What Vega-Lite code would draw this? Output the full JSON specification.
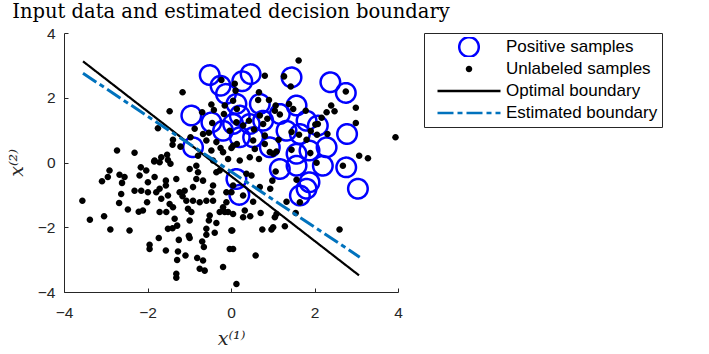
{
  "$schema": "https://vega.github.io/schema/vega-lite/v6.json",
  "width": 334,
  "height": 259,
  "autosize": {"type": "none"},
  "padding": {"left": 64, "top": 33, "right": 311, "bottom": 62},
  "background": "white",
  "title": {"text": "Input data and estimated decision boundary", "font": "DejaVu Serif", "fontSize": 19.5, "fontWeight": "normal", "color": "black", "anchor": "middle", "frame": "group", "baseline": "alphabetic", "offset": -11},
  "config": {
    "view": {"stroke": null},
    "axis": {"domainColor": "#262626", "tickColor": "#262626", "labelColor": "#262626", "labelFont": "Liberation Sans", "labelFontSize": 15.5, "tickSize": -4, "grid": false, "titleFont": "DejaVu Serif", "titleFontStyle": "italic", "titleFontWeight": "normal", "titleFontSize": 19, "titleColor": "#262626", "labelFlush": false, "domainWidth": 1, "tickWidth": 1}
  },
  "datasets": {
    "positive": [
      {"x": -0.51, "y": 2.70}, {"x": -0.25, "y": 2.37}, {"x": -0.12, "y": 2.12}, {"x": 0.27, "y": 2.51}, {"x": 0.47, "y": 2.73},
      {"x": 1.45, "y": 2.63}, {"x": 2.38, "y": 2.48}, {"x": 2.75, "y": 2.15},
      {"x": -0.95, "y": 1.45}, {"x": -0.47, "y": 1.24}, {"x": -0.19, "y": 0.98}, {"x": -0.91, "y": 0.47},
      {"x": 1.57, "y": 1.76}, {"x": 0.69, "y": 1.81}, {"x": 0.13, "y": 1.81}, {"x": 0.21, "y": 1.45}, {"x": 0.45, "y": 1.19},
      {"x": 0.77, "y": 1.29}, {"x": 1.17, "y": 1.50}, {"x": 1.81, "y": 1.29}, {"x": 2.08, "y": 1.14}, {"x": 1.65, "y": 0.88},
      {"x": 1.33, "y": 0.98}, {"x": 2.29, "y": 0.47}, {"x": 1.88, "y": 0.37}, {"x": 1.57, "y": 0.27}, {"x": 0.93, "y": 0.47},
      {"x": 0.53, "y": 0.78}, {"x": 0.21, "y": 0.78}, {"x": 0.05, "y": 1.19}, {"x": 2.78, "y": 0.88},
      {"x": 1.17, "y": -0.20}, {"x": 1.65, "y": -1.02}, {"x": 1.81, "y": -0.81}, {"x": 1.88, "y": -0.61}, {"x": 2.20, "y": -0.10},
      {"x": 2.76, "y": -0.15}, {"x": 3.04, "y": -0.81}, {"x": 0.13, "y": -0.51}, {"x": 1.57, "y": -0.10}, {"x": 0.20, "y": -1.00}
    ],
    "unlabeled": [
      {"x": -1.16, "y": 2.17}, {"x": -0.23, "y": 2.55}, {"x": -1.47, "y": 1.58}, {"x": -1.75, "y": 1.06}, {"x": -2.73, "y": 0.37},
      {"x": -2.31, "y": 0.30}, {"x": -1.83, "y": 0.06}, {"x": -1.67, "y": 0.16}, {"x": -1.53, "y": 0.24}, {"x": -1.51, "y": 0.08},
      {"x": -1.39, "y": 0.70}, {"x": -1.40, "y": 0.55}, {"x": -1.21, "y": 0.49}, {"x": -0.97, "y": 0.78}, {"x": -0.87, "y": 1.04},
      {"x": -0.69, "y": 1.55}, {"x": -0.47, "y": 1.79}, {"x": -0.41, "y": 1.62}, {"x": -0.15, "y": 1.76}, {"x": -0.17, "y": 1.50},
      {"x": -0.45, "y": 1.22}, {"x": -0.67, "y": 0.88}, {"x": -0.53, "y": 0.92}, {"x": -0.35, "y": 0.63}, {"x": -0.25, "y": 0.45},
      {"x": -0.19, "y": 0.32}, {"x": -0.03, "y": 0.98}, {"x": 0.01, "y": 0.45}, {"x": 0.05, "y": 1.91}, {"x": 0.09, "y": 2.43},
      {"x": -0.07, "y": 0.11}, {"x": -0.79, "y": 0.21}, {"x": -0.47, "y": 0.37}, {"x": -0.59, "y": 0.68}, {"x": -0.43, "y": 0.06},
      {"x": 1.62, "y": 3.15}, {"x": 0.81, "y": 2.68}, {"x": 1.27, "y": 2.66}, {"x": 1.43, "y": 2.35}, {"x": 2.75, "y": 2.19},
      {"x": 2.99, "y": 1.69}, {"x": 2.99, "y": 1.22}, {"x": 3.94, "y": 0.78}, {"x": 3.07, "y": 0.21}, {"x": 3.28, "y": 0.13},
      {"x": 2.40, "y": 1.76}, {"x": 2.48, "y": 1.58}, {"x": 2.29, "y": 1.55}, {"x": 2.17, "y": 1.38}, {"x": 2.08, "y": 1.19},
      {"x": 2.02, "y": 1.17}, {"x": 2.31, "y": 0.88}, {"x": 2.06, "y": 0.86}, {"x": 1.91, "y": 0.97}, {"x": 1.79, "y": 1.60},
      {"x": 1.63, "y": 0.86}, {"x": 1.45, "y": 0.94}, {"x": 1.39, "y": 1.81}, {"x": 1.49, "y": 1.65}, {"x": 1.17, "y": 1.48},
      {"x": 1.07, "y": 1.76}, {"x": 1.05, "y": 1.60}, {"x": 0.91, "y": 1.93}, {"x": 0.67, "y": 2.17}, {"x": 0.65, "y": 1.93},
      {"x": 0.11, "y": 2.22}, {"x": 0.14, "y": 1.65}, {"x": 0.43, "y": 1.29}, {"x": 0.29, "y": 1.14}, {"x": 0.13, "y": 1.24},
      {"x": 0.55, "y": 1.02}, {"x": 0.69, "y": 1.45}, {"x": 0.77, "y": 1.19}, {"x": 0.87, "y": 1.35}, {"x": 0.81, "y": 0.83},
      {"x": 1.14, "y": 0.70}, {"x": 1.45, "y": 0.39}, {"x": 1.09, "y": 0.34}, {"x": 0.93, "y": 0.32}, {"x": 0.81, "y": 0.57},
      {"x": 0.57, "y": 0.42}, {"x": 0.53, "y": 0.68}, {"x": 0.14, "y": 0.57}, {"x": 0.05, "y": 0.52}, {"x": 1.81, "y": 0.70},
      {"x": 1.90, "y": 0.29}, {"x": 1.01, "y": 0.27}, {"x": 0.45, "y": 0.16}, {"x": 0.67, "y": 0.11}, {"x": 0.21, "y": 0.06},
      {"x": -3.56, "y": -1.18}, {"x": -3.38, "y": -1.77}, {"x": -3.04, "y": -1.66}, {"x": -2.89, "y": -2.07}, {"x": -2.91, "y": -0.25},
      {"x": -2.95, "y": -0.45}, {"x": -3.09, "y": -0.58}, {"x": -2.67, "y": -0.38}, {"x": -2.55, "y": -0.45}, {"x": -2.61, "y": -0.63},
      {"x": -2.63, "y": -0.97}, {"x": -2.68, "y": -1.25}, {"x": -2.47, "y": -1.45}, {"x": -2.43, "y": -2.10}, {"x": -2.21, "y": -1.52},
      {"x": -2.11, "y": -1.48}, {"x": -2.31, "y": -0.87}, {"x": -2.15, "y": -0.87}, {"x": -2.19, "y": -0.40}, {"x": -2.16, "y": -0.15},
      {"x": -2.03, "y": -0.25}, {"x": -1.99, "y": -0.61}, {"x": -1.99, "y": -0.92}, {"x": -2.01, "y": -1.23}, {"x": -1.83, "y": -0.45},
      {"x": -1.79, "y": -0.92}, {"x": -1.71, "y": -0.81}, {"x": -1.67, "y": -1.12}, {"x": -1.71, "y": -1.53}, {"x": -1.56, "y": -0.71},
      {"x": -1.51, "y": -1.02}, {"x": -1.47, "y": -1.28}, {"x": -1.55, "y": -1.53}, {"x": -1.39, "y": -1.38}, {"x": -1.31, "y": -0.51},
      {"x": -1.35, "y": -1.74}, {"x": -1.29, "y": -1.95}, {"x": -1.51, "y": -2.05}, {"x": -1.40, "y": -2.03}, {"x": -1.73, "y": -2.33},
      {"x": -1.25, "y": -2.39}, {"x": -1.95, "y": -2.54}, {"x": -1.95, "y": -2.67}, {"x": -1.56, "y": -2.72}, {"x": -1.27, "y": -2.75},
      {"x": -1.09, "y": -2.87}, {"x": -1.29, "y": -3.01}, {"x": -1.31, "y": -3.44}, {"x": -1.31, "y": -3.56}, {"x": -1.01, "y": -2.26},
      {"x": -0.99, "y": -2.33}, {"x": -0.81, "y": -2.95}, {"x": -0.67, "y": -3.03}, {"x": -0.75, "y": -3.28}, {"x": -0.63, "y": -3.34},
      {"x": -0.65, "y": -2.61}, {"x": -0.69, "y": -2.44}, {"x": -0.59, "y": -2.23}, {"x": -0.59, "y": -2.05}, {"x": -0.39, "y": -2.17},
      {"x": -0.53, "y": -1.79}, {"x": -0.35, "y": -1.87}, {"x": -0.51, "y": -1.64}, {"x": -0.95, "y": -1.53}, {"x": -1.03, "y": -1.43},
      {"x": -0.99, "y": -1.79}, {"x": -1.07, "y": -1.18}, {"x": -0.91, "y": -1.18}, {"x": -0.75, "y": -1.23}, {"x": -0.59, "y": -1.18},
      {"x": -0.43, "y": -1.18}, {"x": -0.19, "y": -1.38}, {"x": -0.15, "y": -1.53}, {"x": -0.27, "y": -1.53}, {"x": -0.07, "y": -1.53},
      {"x": 0.01, "y": -2.10}, {"x": -0.03, "y": -2.67}, {"x": -0.19, "y": -3.23}, {"x": -1.23, "y": -0.92}, {"x": -1.16, "y": -1.04},
      {"x": -1.11, "y": -0.87}, {"x": -0.91, "y": -0.76}, {"x": -0.83, "y": -0.51}, {"x": -0.67, "y": -0.56}, {"x": -0.79, "y": -0.30},
      {"x": -0.83, "y": -0.10}, {"x": -0.99, "y": -0.20}, {"x": -0.47, "y": -0.92}, {"x": -0.43, "y": -0.71}, {"x": -0.35, "y": -0.30},
      {"x": -0.27, "y": -0.25}, {"x": -0.11, "y": -0.92}, {"x": -0.11, "y": -1.23}, {"x": 0.05, "y": -0.71}, {"x": -1.45, "y": -0.04},
      {"x": -1.71, "y": 0.01}, {"x": -1.84, "y": 0.03}, {"x": -1.56, "y": -0.56},
      {"x": 0.13, "y": -3.75}, {"x": 0.59, "y": -2.87}, {"x": 0.05, "y": -2.67}, {"x": 0.75, "y": -2.07}, {"x": 0.97, "y": -2.07},
      {"x": 1.01, "y": -2.00}, {"x": 1.29, "y": -1.97}, {"x": 2.60, "y": -2.07}, {"x": 1.09, "y": -1.59}, {"x": 1.05, "y": -1.69},
      {"x": 0.71, "y": -1.56}, {"x": 0.46, "y": -1.66}, {"x": 0.33, "y": -1.48}, {"x": 0.29, "y": -1.69}, {"x": 0.03, "y": -2.10},
      {"x": 0.05, "y": -1.59}, {"x": 0.53, "y": -1.21}, {"x": 0.69, "y": -0.76}, {"x": 0.94, "y": -0.81}, {"x": 0.99, "y": -0.56},
      {"x": 1.07, "y": -0.28}, {"x": 1.33, "y": -1.21}, {"x": 1.55, "y": -1.56}, {"x": 1.65, "y": -1.23}, {"x": 1.57, "y": -0.53},
      {"x": 2.05, "y": -0.01}, {"x": 2.68, "y": -0.10}, {"x": 0.37, "y": -0.35}, {"x": 0.49, "y": -0.40}, {"x": 0.29, "y": -1.02},
      {"x": 0.01, "y": -0.92}
    ],
    "optimal": [{"x": -3.545, "y": 3.125}, {"x": 3.066, "y": -3.486}],
    "estimated": [{"x": -3.545, "y": 2.756}, {"x": 3.083, "y": -2.923}]
  },
  "encoding": {
    "x": {"field": "x", "type": "quantitative", "scale": {"domain": [-4, 4], "nice": false, "zero": false}, "axis": {"values": [-4, -2, 0, 2, 4], "title": "x⁽¹⁾", "labelPadding": 17, "titlePadding": 9}},
    "y": {"field": "y", "type": "quantitative", "scale": {"domain": [-4, 4], "nice": false, "zero": false}, "axis": {"values": [-4, -2, 0, 2, 4], "title": "x⁽²⁾", "labelPadding": 13, "titlePadding": 11}}
  },
  "layer": [
    {
      "data": {"name": "positive"},
      "mark": {"type": "point", "filled": false, "opacity": 1, "size": 3969, "strokeWidth": 2.5},
      "encoding": {
        "stroke": {
          "datum": "Positive samples", "type": "nominal",
          "scale": {"domain": ["Positive samples", "Unlabeled samples", "Optimal boundary", "Estimated boundary"], "range": ["#0000ff", "transparent", "#000000", "#0072bd"]},
          "legend": {
            "title": null, "orient": "right", "offset": 26, "padding": 4, "columns": 1,
            "strokeColor": "#262626", "fillColor": "white", "cornerRadius": 0,
            "clipHeight": 20, "rowPadding": 2, "symbolOffset": 8, "labelOffset": 4,
            "symbolSize": 3969, "symbolStrokeWidth": 2.5,
            "labelFont": "Liberation Sans", "labelFontSize": 17, "labelColor": "black", "labelLimit": 400
          }
        },
        "fill": {
          "datum": "Positive samples", "type": "nominal",
          "scale": {"domain": ["Positive samples", "Unlabeled samples", "Optimal boundary", "Estimated boundary"], "range": ["transparent", "#000000", "transparent", "transparent"]}
        },
        "shape": {
          "datum": "Positive samples", "type": "nominal",
          "scale": {"domain": ["Positive samples", "Unlabeled samples", "Optimal boundary", "Estimated boundary"], "range": ["M-0.31,0A0.31,0.31,0,1,1,0.31,0A0.31,0.31,0,1,1,-0.31,0Z", "M-0.104,0A0.104,0.104,0,1,1,0.104,0A0.104,0.104,0,1,1,-0.104,0Z", "M-1,0H1", "M-1,0H1"]}
        },
        "strokeDash": {
          "datum": "Positive samples", "type": "nominal",
          "scale": {"domain": ["Positive samples", "Unlabeled samples", "Optimal boundary", "Estimated boundary"], "range": [[1, 0], [1, 0], [1, 0], [16, 4, 5, 4]]}
        }
      }
    },
    {
      "data": {"name": "unlabeled"},
      "mark": {"type": "point", "filled": true, "opacity": 1, "size": 3969, "strokeWidth": 0},
      "encoding": {
        "stroke": {"datum": "Unlabeled samples", "type": "nominal"},
        "fill": {"datum": "Unlabeled samples", "type": "nominal"},
        "shape": {"datum": "Unlabeled samples", "type": "nominal"},
        "strokeDash": {"datum": "Unlabeled samples", "type": "nominal"}
      }
    },
    {
      "data": {"name": "optimal"},
      "mark": {"type": "line", "opacity": 1, "strokeWidth": 2.2},
      "encoding": {
        "stroke": {"datum": "Optimal boundary", "type": "nominal"},
        "strokeDash": {"datum": "Optimal boundary", "type": "nominal"}
      }
    },
    {
      "data": {"name": "estimated"},
      "mark": {"type": "line", "opacity": 1, "strokeWidth": 3},
      "encoding": {
        "stroke": {"datum": "Estimated boundary", "type": "nominal"},
        "strokeDash": {"datum": "Estimated boundary", "type": "nominal"}
      }
    }
  ]
}
